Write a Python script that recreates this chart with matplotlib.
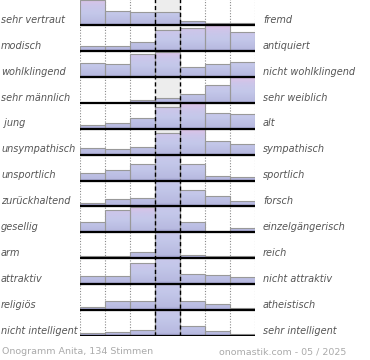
import matplotlib
matplotlib.use("Agg")
import matplotlib.pyplot as plt
import numpy as np
from matplotlib.colors import LinearSegmentedColormap
from matplotlib.patches import Rectangle
from matplotlib.transforms import blended_transform_factory

left_labels = ["sehr vertraut", "modisch", "wohlklingend", "sehr männlich", " jung",
               "unsympathisch", "unsportlich", "zurückhaltend", "gesellig", "arm",
               "attraktiv", "religiös", "nicht intelligent"]
right_labels = ["fremd", "antiquiert", "nicht wohlklingend", "sehr weiblich", "alt",
                "sympathisch", "sportlich", "forsch", "einzelgängerisch", "reich",
                "nicht attraktiv", "atheistisch", "sehr intelligent"]

# bar heights per row (25 = full row height, larger values are cut off)
heights = [
    [24.5, 13.3, 12.3, 12.3, 4.0, 1.7, 2.3],
    [4.3, 4.3, 8.7, 20.0, 21.7, 25.0, 18.7],
    [13.5, 12.0, 22.5, 24.0, 9.8, 12.0, 14.0],
    [0.0, 0.0, 3.0, 5.0, 8.3, 17.6, 25.0],
    [3.3, 5.3, 10.7, 21.3, 25.0, 15.0, 14.0],
    [6.0, 5.7, 7.0, 20.7, 25.0, 13.3, 10.7],
    [7.7, 9.7, 15.7, 40.0, 15.7, 4.3, 3.0],
    [3.0, 6.7, 8.0, 40.0, 15.7, 9.7, 5.7],
    [10.3, 21.3, 24.0, 40.0, 9.7, 1.5, 4.0],
    [2.0, 2.0, 5.7, 40.0, 3.3, 2.0, 2.0],
    [8.0, 8.0, 20.0, 40.0, 10.0, 9.0, 7.0],
    [2.5, 8.5, 8.5, 40.0, 9.0, 6.0, 2.0],
    [2.7, 4.3, 6.0, 40.0, 9.3, 5.0, 1.7],
]
full = 25.0

footer_left = "Onogramm Anita, 134 Stimmen"
footer_right = "onomastik.com - 05 / 2025"

cmap = LinearSegmentedColormap.from_list(
    "bars", [(0, "#9c9ccc"), (0.08, "#b8bae0"), (0.45, "#c4c8ea"), (0.75, "#ccc6ea"), (1, "#dec2e6")])
grad = np.linspace(0, 1, 256).reshape(-1, 1)

fig = plt.figure(figsize=(3.7, 3.6), dpi=100)
ax = fig.add_axes([79.7 / 370, 24 / 360, 175 / 370, 336.9 / 360])
nrows = len(heights)

ax.axvspan(3, 4, color="#ededed", zorder=0)
for x in [0, 1, 2, 5, 6, 7]:
    ax.axvline(x, color="#8a8a8a", lw=0.8, ls=(0, (1, 1.5)), zorder=1)

for r, row in enumerate(heights):
    base = r + 1
    for j, v in enumerate(row):
        if v <= 0:
            continue
        h = min(v, full) / full
        g = max(v, full) / full
        im = ax.imshow(grad, cmap=cmap, origin="lower", aspect="auto",
                       extent=(j, j + 1, base, base - g), zorder=2)
        rect = Rectangle((j, base - h), 1, h, transform=ax.transData)
        im.set_clip_path(rect)
        ax.add_patch(Rectangle((j, base - h), 1, h, fill=False,
                               edgecolor="#999999", lw=0.8, zorder=3))
    ax.hlines(base, 0, 7, color="black", lw=1.6, zorder=5)

for x in [3, 4]:
    ax.axvline(x, color="black", lw=1.0, ls=(0, (3, 2)), zorder=4)

ax.set_xlim(0, 7)
ax.set_ylim(nrows, 0)
ax.axis("off")

tr = blended_transform_factory(fig.transFigure, ax.transData)
for r in range(nrows):
    ax.text(1 / 370, r + 1 - 0.2, left_labels[r], transform=tr, ha="left", va="center",
            fontsize=7, style="italic", color="#555555")
    ax.text(263 / 370, r + 1 - 0.2, right_labels[r], transform=tr, ha="left", va="center",
            fontsize=7, style="italic", color="#555555")

fig.text(2 / 370, 1 - 352 / 360, footer_left, ha="left", va="center", fontsize=6.8, color="#aaaaaa")
fig.text(346 / 370, 1 - 352 / 360, footer_right, ha="right", va="center", fontsize=6.8, color="#aaaaaa")

fig.savefig("out.png", dpi=100)
